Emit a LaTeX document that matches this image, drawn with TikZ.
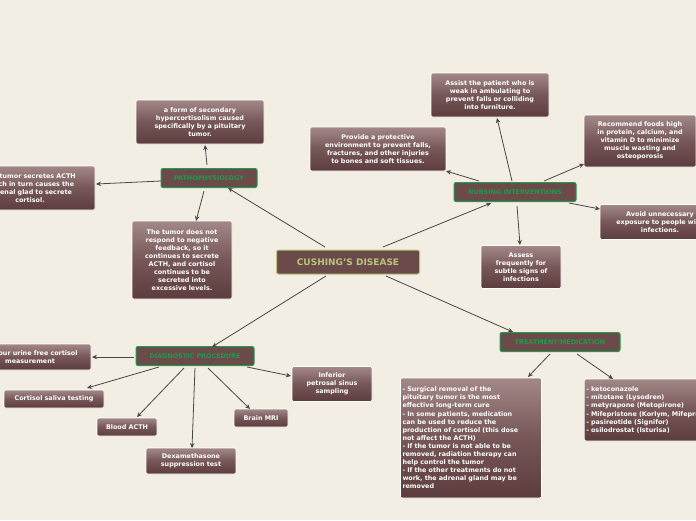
\documentclass[tikz,border=0pt]{standalone}
\usepackage{fontspec}
\setmainfont{DejaVu Sans}
\usetikzlibrary{arrows.meta}
\definecolor{bg}{HTML}{F3EEE3}
\definecolor{boxtop}{HTML}{A38888}
\definecolor{boxbot}{HTML}{5C3C3C}
\definecolor{hdr}{HTML}{6B4A4A}
\definecolor{grn}{HTML}{1E9B4B}
\definecolor{olive}{HTML}{B9C47A}
\definecolor{ln}{HTML}{474747}
\tikzset{
 leaf/.style={draw=white, line width=0.6pt, rounded corners=2pt, top color=boxtop, bottom color=boxbot, middle color=hdr!80!boxtop,
   text=white, font=\bfseries\fontsize{6.4}{8.1}\selectfont, align=center, inner sep=2pt, minimum height=#1},
 leaf/.default=18pt,
 hdrbox/.style={draw=grn, line width=1pt, rounded corners=2pt, fill=hdr, text=grn, font=\bfseries\fontsize{6.4}{7}\selectfont, minimum height=19pt, inner sep=2pt},
 conn/.style={draw=ln, line width=0.8pt, -{Stealth[length=5pt,width=4.5pt]}}
}
\begin{document}
\begin{tikzpicture}[x=1pt,y=-1pt]
\fill[bg] (0,0) rectangle (696,520);
\clip (0,0) rectangle (696,520);
\useasboundingbox (0,0) rectangle (696,520);
% center
\node[draw=olive, line width=1pt, rounded corners=2pt, fill=hdr, text=olive, font=\bfseries\fontsize{9}{10}\selectfont, minimum width=143pt, minimum height=24pt] (c) at (348,262) {CUSHING'S DISEASE};
% pathophysiology
\node[hdrbox, minimum width=96pt] (p) at (209,178) {PATHOPHYSIOLOGY};
\node[leaf=44pt, text width=124pt] (p1) at (200,122) {a form of secondary\\hypercortisolism caused\\specifically by a pituitary\\tumor.};
\node[leaf=44pt, text width=126pt] (p2) at (30,188) {The tumor secretes ACTH\\which in turn causes the\\adrenal glad to secrete\\cortisol.};
\node[leaf=78pt, text width=96pt] (p3) at (182,260) {The tumor does not\\respond to negative\\feedback, so it\\continues to secrete\\ACTH, and cortisol\\continues to be\\secreted into\\excessive levels.};
% nursing
\node[hdrbox, minimum width=122pt] (n) at (515,192) {NURSING INTERVENTIONS};
\node[leaf=44pt, text width=114pt] (n1) at (490,95) {Assist the patient who is\\weak in ambulating to\\prevent falls or colliding\\into furniture.};
\node[leaf=44pt, text width=132pt] (n2) at (378,149) {Provide a protective\\environment to prevent falls,\\fractures, and other injuries\\to bones and soft tissues.};
\node[leaf=52pt, text width=108pt] (n3) at (640,141) {Recommend foods high\\in protein, calcium, and\\vitamin D to minimize\\muscle wasting and\\osteoporosis};
\node[leaf=35pt, text width=116pt] (n4) at (660,222) {Avoid unnecessary\\exposure to people with\\infections.};
\node[leaf=43pt, text width=76pt] (n5) at (521,267) {Assess\\frequently for\\subtle signs of\\infections};
% diagnostic
\node[hdrbox, minimum width=118pt] (d) at (195,356) {DIAGNOSTIC PROCEDURE};
\node[leaf=26pt, text width=118pt] (d1) at (30,357) {24-hour urine free cortisol\\measurement};
\node[leaf, text width=96pt] (d2) at (54,399) {Cortisol saliva testing};
\node[leaf, text width=56pt] (d3) at (127,427) {Blood ACTH};
\node[leaf=26pt, text width=86pt] (d4) at (191,461) {Dexamethasone\\suppression test};
\node[leaf, text width=50pt] (d5) at (261,418) {Brain MRI};
\node[leaf=35pt, text width=76pt] (d6) at (332,384) {Inferior\\petrosal sinus\\sampling};
% treatment
\node[leaf=120pt, text width=137pt, align=left] (t1) at (471,438) {- Surgical removal of the\\pituitary tumor is the most\\effective long-term cure\\- In some patients, medication\\can be used to reduce the\\production of cortisol (this dose\\not affect the ACTH)\\- If the tumor is not able to be\\removed, radiation therapy can\\help control the tumor\\- If the other treatments do not\\work, the adrenal gland may be\\removed};
\node[hdrbox, minimum width=120pt] (t) at (560,342) {TREATMENT/MEDICATION};
\node[leaf=62pt, text width=140pt, align=left, anchor=west] (t2) at (584,410) {- ketoconazole\\- mitotane (Lysodren)\\- metyrapone (Metopirone)\\- Mifepristone (Korlym, Mifeprex)\\- pasireotide (Signifor)\\- osilodrostat (Isturisa)};
% connectors
\draw[conn] (325,247) -- (228,188);
\draw[conn] (383,247) -- (491,203);
\draw[conn] (326,276) -- (212,347);
\draw[conn] (386,276) -- (513,332);
\draw[conn] (207,165) -- (205,145);
\draw[conn] (161,181) -- (96,184);
\draw[conn] (204,191) -- (196,221);
\draw[conn] (512,181) -- (497,118);
\draw[conn] (479,181) -- (446,171);
\draw[conn] (544,181) -- (584,164);
\draw[conn] (569,203) -- (600,209);
\draw[conn] (517,206) -- (520,245);
\draw[conn] (134,357) -- (92,357);
\draw[conn] (159,367) -- (87,388);
\draw[conn] (184,368) -- (137,417);
\draw[conn] (195,368) -- (192,448);
\draw[conn] (208,368) -- (250,409);
\draw[conn] (247,367) -- (291,376);
\draw[conn] (550,354) -- (528,377);
\draw[conn] (577,354) -- (613,379);
\end{tikzpicture}
\end{document}
